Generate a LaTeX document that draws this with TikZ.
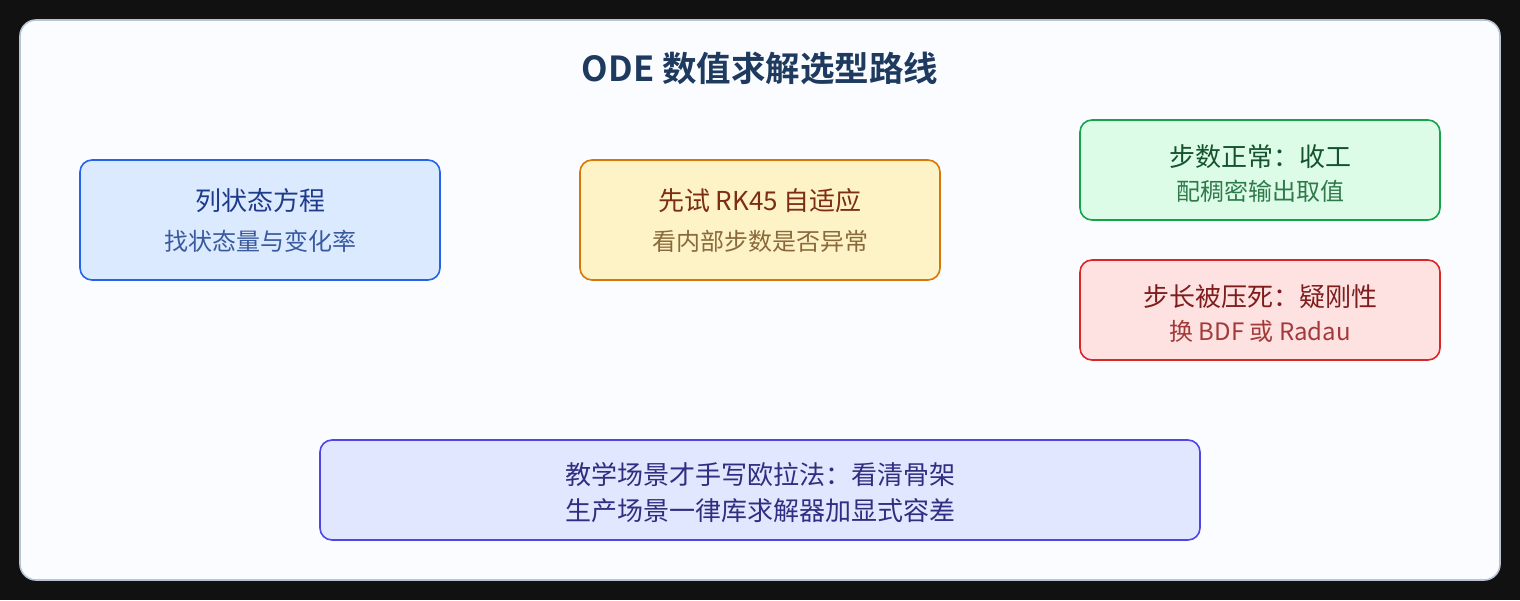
\documentclass[tikz,border=0pt]{standalone}
\usepackage{fontspec}
\setmainfont{Noto Sans CJK SC}
\newfontfamily\cjkbold{Noto Sans CJK SC Bold}
\definecolor{bgdark}{HTML}{111111}
\definecolor{panelfill}{HTML}{FAFCFF}
\definecolor{panelborder}{HTML}{B8C4D4}
\definecolor{titlecol}{HTML}{1E3A5F}
\definecolor{bluefill}{HTML}{DBEAFE}\definecolor{bluedraw}{HTML}{2563EB}\definecolor{bluetxt}{HTML}{1E3A8A}\definecolor{bluetxtb}{HTML}{3A5A9E}
\definecolor{ambfill}{HTML}{FEF3C7}\definecolor{ambdraw}{HTML}{D97706}\definecolor{ambtxt}{HTML}{7C2D12}\definecolor{ambtxtb}{HTML}{8A6A3C}
\definecolor{grnfill}{HTML}{DCFCE7}\definecolor{grndraw}{HTML}{16A34A}\definecolor{grntxt}{HTML}{14532D}\definecolor{grntxtb}{HTML}{2F7A4A}
\definecolor{redfill}{HTML}{FEE2E2}\definecolor{reddraw}{HTML}{DC2626}\definecolor{redtxt}{HTML}{7F1D1D}\definecolor{redtxtb}{HTML}{A33A3A}
\definecolor{indfill}{HTML}{E0E7FF}\definecolor{inddraw}{HTML}{4F46E5}\definecolor{indtxt}{HTML}{312E81}
\tikzset{
  card/.style={rounded corners=12pt, line width=1.6pt},
  mainline/.style={font=\fontsize{26}{30}\selectfont, inner sep=0pt, anchor=center},
  subline/.style={font=\fontsize{24}{28}\selectfont, inner sep=0pt, anchor=center},
}
\begin{document}
\begin{tikzpicture}[x=1pt,y=-1pt]
\fill[bgdark] (0,0) rectangle (1520,600);
\useasboundingbox (0,0) rectangle (1520,600);
\draw[panelborder, fill=panelfill, line width=1.6pt, rounded corners=16pt] (20,20) rectangle (1500,580);
\node[font=\cjkbold\fontsize{34.5}{40}\selectfont, text=titlecol, inner sep=0pt] (title) at (760,69) {ODE 数值求解选型路线};
% box 1
\draw[card, bluedraw, fill=bluefill] (80,160) rectangle (440,280);
\node[mainline, text=bluetxt] (b1a) at (260,201) {列状态方程};
\node[subline, text=bluetxtb] (b1b) at (260,241) {找状态量与变化率};
% box 2
\draw[card, ambdraw, fill=ambfill] (580,160) rectangle (940,280);
\node[mainline, text=ambtxt] (b2a) at (760,201) {先试 RK45 自适应};
\node[subline, text=ambtxtb] (b2b) at (760,241) {看内部步数是否异常};
% box 3
\draw[card, grndraw, fill=grnfill] (1080,120) rectangle (1440,220);
\node[mainline, text=grntxt] (b3a) at (1260,157) {步数正常：收工};
\node[subline, text=grntxtb] (b3b) at (1260,191) {配稠密输出取值};
% box 4
\draw[card, reddraw, fill=redfill] (1080,260) rectangle (1440,360);
\node[mainline, text=redtxt] (b4a) at (1260,297) {步长被压死：疑刚性};
\node[subline, text=redtxtb] (b4b) at (1260,331) {换 BDF 或 Radau};
% box 5
\draw[card, inddraw, fill=indfill] (320,440) rectangle (1200,540);
\node[mainline, text=indtxt] (b5a) at (760,475) {教学场景才手写欧拉法：看清骨架};
\node[mainline, text=indtxt] (b5b) at (760,511) {生产场景一律库求解器加显式容差};
\end{tikzpicture}
\end{document}
